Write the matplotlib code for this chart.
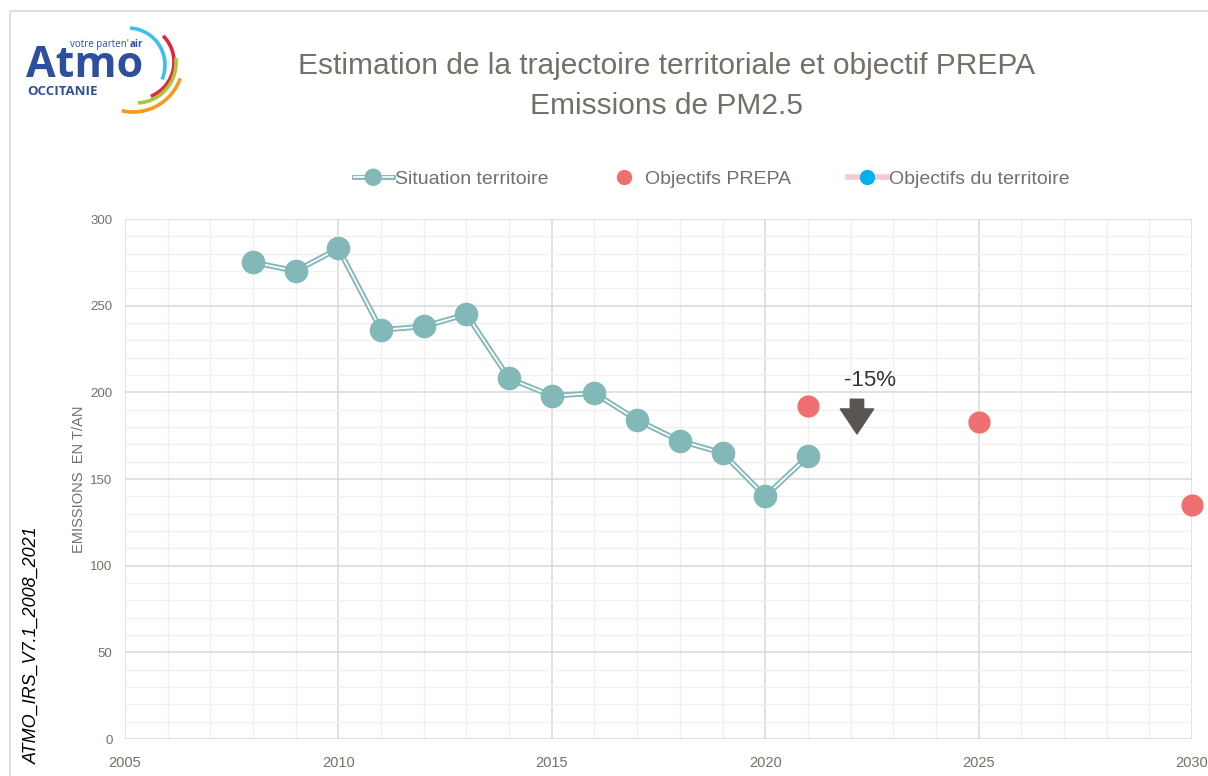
import numpy as np
import matplotlib
matplotlib.use("Agg")
import matplotlib.pyplot as plt
from matplotlib.patches import Arc, Rectangle
from matplotlib.lines import Line2D
import matplotlib.patheffects as pe

plt.rcParams['font.family'] = ['Liberation Sans', 'DejaVu Sans']

# data
years = [2008, 2009, 2010, 2011, 2012, 2013, 2014, 2015, 2016, 2017, 2018, 2019, 2020, 2021]
situation = [275, 270, 283, 236, 238, 245, 208, 198, 199.5, 184, 172, 165, 140, 163]
prepa_years = [2021, 2025, 2030]
prepa_values = [192, 183, 135]
x_ticks = [2005, 2010, 2015, 2020, 2025, 2030]
y_ticks = [0, 50, 100, 150, 200, 250, 300]

teal = "#82B8B8"
red = "#F07070"
grey_txt = "#757067"
logo_blue = "#2D4F9E"
logo_font = ["Open Sans", "DejaVu Sans"]

fig = plt.figure(figsize=(12.08, 7.76), dpi=100)

# background layer in pixel coords (logo, frame)
bg = fig.add_axes([0, 0, 1, 1], zorder=0)
bg.set_xlim(0, 1208)
bg.set_ylim(776, 0)
bg.axis("off")
bg.add_patch(Rectangle((10, 11), 1300, 900, fill=False, ec="#D9D9D9", lw=1.2))
bg.text(26, 77, "Atmo", fontsize=31, fontweight="bold", color=logo_blue,
        family=logo_font, va="baseline")
bg.text(129, 47, "votre parten'", fontsize=7, color=logo_blue,
        family=logo_font, va="baseline", ha="right")
bg.text(129.5, 47, "air", fontsize=7, color=logo_blue, fontweight="bold",
        family=logo_font, va="baseline", ha="left")
bg.text(27, 95, "OCCITANIE", fontsize=9.5, color=logo_blue, fontweight="bold",
        family=logo_font, va="baseline")
arcs = [((128, 65), 37, -87, 23, "#3EC1E8"),
        ((137, 62), 37, -45, 68, "#E3263F"),
        ((136, 63), 40, -7, 87, "#A7C83A"),
        ((133, 62), 50, 19, 103, "#F39A1F")]
for c, r, t1, t2, col in arcs:
    bg.add_patch(Arc(c, 2 * r, 2 * r, theta1=t1, theta2=t2, color=col, lw=2.6))

fig.text(0.552, 0.915, "Estimation de la trajectoire territoriale et objectif PREPA",
         ha="center", va="center", fontsize=21.5, color=grey_txt)
fig.text(0.552, 0.863, "Emissions de PM2.5", ha="center", va="center",
         fontsize=21.5, color=grey_txt)

ax = fig.add_axes([125 / 1208, 37 / 776, 1067 / 1208, 520 / 776], zorder=1)
ax.patch.set_alpha(0)
ax.set_xlim(2005, 2030)
ax.set_ylim(0, 300)
ax.set_xticks(x_ticks)
ax.set_yticks(y_ticks)
ax.set_xticks(np.arange(2005, 2031, 1), minor=True)
ax.set_yticks(np.arange(0, 301, 10), minor=True)
ax.grid(which="minor", color="#F0F0F0", lw=1.0)
ax.grid(which="major", color="#D9D9D9", lw=1.1)
ax.set_axisbelow(True)
for s in ax.spines.values():
    s.set_visible(False)
ax.tick_params(which="both", length=0)
ax.tick_params(axis="y", labelsize=9.5, labelcolor=grey_txt, pad=9)
ax.tick_params(axis="x", labelsize=10.5, labelcolor=grey_txt, pad=12)
ax.set_ylabel("EMISSIONS  EN T/AN", fontsize=10.5, color=grey_txt, labelpad=3)

line_fx = [pe.Stroke(linewidth=4, foreground=teal), pe.Normal()]
ax.plot(years, situation, color="white", lw=1.3, path_effects=line_fx, zorder=3)
ax.plot(years, situation, "o", color=teal, ms=16, zorder=4)
ax.plot(prepa_years, prepa_values, "o", color=red, ms=15, zorder=4, clip_on=False)

ax.annotate("", xy=(2022.15, 176), xytext=(2022.15, 196),
            arrowprops=dict(arrowstyle="simple,head_length=0.75,head_width=1.0,tail_width=0.4",
                            color="#5A5550", mutation_scale=24, shrinkA=0, shrinkB=0))
ax.text(2022.45, 207, "-15%", ha="center", va="center", fontsize=16, color="#333333")

h1 = Line2D([], [], color="white", lw=1.2, marker="o", ms=9, mfc=teal, mec=teal,
            path_effects=[pe.Stroke(linewidth=3.5, foreground=teal), pe.Normal()])
h2 = Line2D([], [], ls="none", marker="o", ms=10, color=red)
h3 = Line2D([], [], color="#F6C9D0", lw=4, marker="o", ms=10, mfc="#00B0F0", mec="#00B0F0")
fig.legend([h1, h2, h3], ["Situation territoire", "Objectifs PREPA", "Objectifs du territoire"],
           loc="center", bbox_to_anchor=(0.589, 0.769), ncol=3, frameon=False,
           fontsize=14, labelcolor=grey_txt, handlelength=2.0, handletextpad=0.1,
           columnspacing=2.9)

fig.text(0.027, 0.169, "ATMO_IRS_V7.1_2008_2021", rotation=90, ha="center", va="center",
         fontsize=13, style="italic", color="black")

fig.savefig("out.png", dpi=100)
